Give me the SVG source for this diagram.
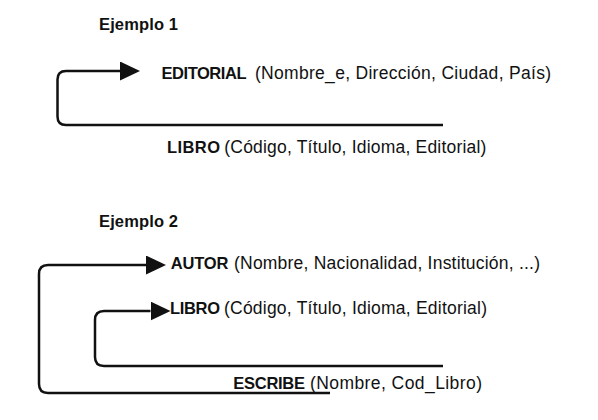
<svg xmlns="http://www.w3.org/2000/svg" width="598" height="420" viewBox="0 0 598 420">
<defs>
<style>
text{font-family:"Liberation Sans",Arial,sans-serif;font-size:17.5px;fill:#111}
.b{font-weight:bold;font-size:16.5px}
.c{fill:none;stroke:#111;stroke-width:2.5}
</style>
<marker id="ah" viewBox="0 0 20 19" refX="0" refY="9.5" markerWidth="20" markerHeight="19" markerUnits="userSpaceOnUse" orient="auto">
<path d="M0,0 L20,9.5 L0,19 z" fill="#111"/>
</marker>
</defs>
<rect width="598" height="420" fill="#fff"/>
<g id="connectors">
<path class="c" d="M443,125 H66 Q57.5,125 57.5,116.5 V79.5 Q57.5,71 66,71 H120" marker-end="url(#ah)"/>
<path class="c" d="M330,393 H48 Q39,393 39,384 V274 Q39,265 48,265 H146" marker-end="url(#ah)"/>
<path class="c" d="M443,366 H104 Q95,366 95,357 V320 Q95,311 104,311 H150.5" marker-end="url(#ah)"/>
</g>
<g id="titulo1"><text class="b" x="99" y="29.5" textLength="79">Ejemplo 1</text></g>
<g id="editorial">
<text class="b" x="161.5" y="78.5" textLength="85">EDITORIAL</text>
<text x="255" y="78.5" textLength="296" lengthAdjust="spacing">(Nombre_e, Dirección, Ciudad, País)</text>
</g>
<g id="libro1">
<text class="b" x="167" y="152.5" textLength="53">LIBRO</text>
<text x="224.3" y="152.5" textLength="262" lengthAdjust="spacing">(Código, Título, Idioma, Editorial)</text>
</g>
<g id="titulo2"><text class="b" x="99" y="227" textLength="79">Ejemplo 2</text></g>
<g id="autor">
<text class="b" x="170.7" y="269" textLength="57.6">AUTOR</text>
<text x="234" y="269" textLength="306" lengthAdjust="spacing">(Nombre, Nacionalidad, Institución, ...)</text>
</g>
<g id="libro2">
<text class="b" x="170" y="313.5" textLength="50">LIBRO</text>
<text x="224" y="313.5" textLength="263" lengthAdjust="spacing">(Código, Título, Idioma, Editorial)</text>
</g>
<g id="escribe">
<text class="b" x="233.3" y="388.5" textLength="71.7">ESCRIBE</text>
<text x="310" y="388.5" textLength="172" lengthAdjust="spacing">(Nombre, Cod_Libro)</text>
</g>
</svg>
